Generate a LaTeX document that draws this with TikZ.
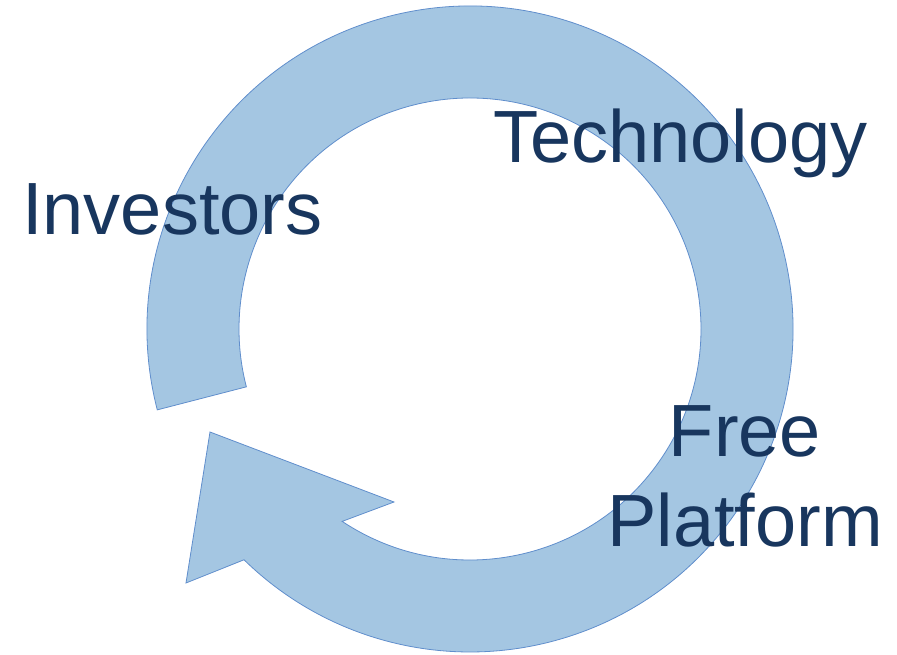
\documentclass[tikz,border=0pt]{standalone}
\usepackage{fontspec}
\setmainfont{Liberation Sans}
\usepackage{xcolor}
\usepackage{tikz}
\definecolor{ringfill}{RGB}{164,198,226}
\definecolor{ringline}{RGB}{96,142,204}
\definecolor{navytext}{RGB}{24,54,94}
\tikzstyle{ring} = [fill=ringfill, draw=ringline, line width=0.8pt, line join=miter]
\tikzstyle{cyclelabel} = [inner sep=0pt, text=navytext, font=\fontsize{74}{90}\selectfont]
\tikzset{every node/.style={align=center}}

\begin{document}
\begin{tikzpicture}[x=1pt, y=1pt]
    \useasboundingbox (-470,-326) rectangle (427,329);
    \draw [ring] (194.5:323) arc[start angle=194.5, end angle=-134.4, radius=323]
        -- (-284,-254) -- (-260,-103) -- (-76,-173)
        -- (-123.6:231) arc[start angle=-123.6, end angle=194.5, radius=231] -- cycle;
    \node (investors) [cyclelabel, anchor=base west] at (-448,94) {Investors};
    \node (technology) [cyclelabel, anchor=base west] at (23,166) {Technology};
    \node (platform) [cyclelabel, anchor=base] at (275,-218) {Free\\Platform};
\end{tikzpicture}
\end{document}
